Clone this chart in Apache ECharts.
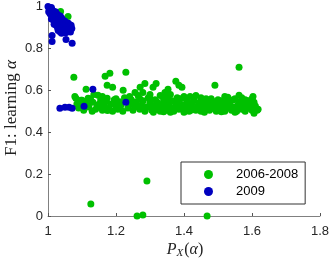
<!DOCTYPE html>
<html><head><meta charset="utf-8">
<script src="https://cdn.jsdelivr.net/npm/echarts@6/dist/echarts.min.js"></script>
<style>html,body{margin:0;padding:0;background:#fff}#c{width:332px;height:261px}</style>
</head><body><div id="c"></div>
<script>
var seriesNames = ['2006-2008', '2009'];
var xTicks = [1, 1.2, 1.4, 1.6, 1.8];
var yTicks = [0, 0.2, 0.4, 0.6, 0.8, 1];

var green = [
[1.037,0.976],[1.059,0.952],
[1.076,0.662],[1.168,0.667],[1.182,0.681],[1.229,0.686],[1.112,0.605],[1.174,0.624],[1.19,0.614],[1.221,0.6],
[1.079,0.571],[1.1,0.552],[1.147,0.576],[1.132,0.543],[1.153,0.538],[1.174,0.562],[1.256,0.59],[1.271,0.614],
[1.279,0.59],[1.285,0.633],[1.318,0.633],[1.309,0.614],[1.376,0.643],[1.394,0.614],[1.385,0.624],[1.344,0.59],
[1.418,0.571],[1.491,0.624],[1.562,0.71],[1.562,0.576],[1.603,0.571],[1.606,0.543],[1.618,0.51],[1.606,0.49],
[1.353,0.605],[1.529,0.567],[1.082,0.562],[1.097,0.552],[1.118,0.562],[1.135,0.58],
[1.126,0.057],[1.262,0.0],[1.279,0.005],[1.291,0.167],[1.468,0.0],
[1.085,0.535],[1.09,0.515],[1.1,0.53],[1.105,0.505],[1.115,0.54],[1.12,0.52],[1.125,0.56],[1.14,0.51],[1.145,0.53],
[1.155,0.555],[1.16,0.505],[1.165,0.525],[1.17,0.545],[1.18,0.515],[1.185,0.535],[1.19,0.5],[1.195,0.555],[1.2,0.525],
[1.205,0.51],[1.21,0.545],[1.215,0.53],[1.22,0.5],[1.225,0.565],[1.235,0.515],[1.24,0.535],[1.245,0.555],[1.25,0.505],
[1.255,0.525],[1.26,0.545],[1.265,0.575],[1.27,0.51],[1.275,0.53],[1.28,0.55],[1.285,0.5],[1.29,0.52],[1.295,0.565],[1.3,0.54],
[1.305,0.505],[1.31,0.525],[1.315,0.555],[1.32,0.51],[1.325,0.535],[1.33,0.5],[1.335,0.52],[1.34,0.545],[1.345,0.565],
[1.35,0.505],[1.355,0.53],[1.36,0.515],[1.365,0.55],[1.37,0.5],[1.375,0.525],[1.38,0.54],[1.385,0.51],[1.39,0.56],[1.395,0.53],[1.4,0.505],
[1.405,0.52],[1.41,0.545],[1.415,0.5],[1.42,0.53],[1.425,0.515],[1.43,0.555],[1.435,0.505],[1.44,0.525],[1.445,0.54],
[1.45,0.5],[1.455,0.52],[1.46,0.51],[1.465,0.535],[1.47,0.55],[1.475,0.505],[1.48,0.525],[1.485,0.515],[1.49,0.545],[1.495,0.5],[1.5,0.53],
[1.505,0.51],[1.51,0.55],[1.515,0.525],[1.52,0.5],[1.525,0.54],[1.53,0.515],[1.535,0.53],[1.54,0.505],[1.545,0.555],
[1.55,0.52],[1.555,0.5],[1.56,0.535],[1.565,0.545],[1.57,0.51],[1.575,0.525],[1.58,0.5],[1.585,0.515],[1.59,0.535],[1.595,0.52],[1.6,0.505],
[1.31,0.495],[1.34,0.498],[1.37,0.512],[1.4,0.495],[1.43,0.51],[1.46,0.495],[1.49,0.512],[1.52,0.51],[1.55,0.495],[1.58,0.508],
[1.33,0.51],[1.36,0.495],[1.42,0.505],[1.47,0.52],[1.51,0.498],
[1.36,0.58],[1.4,0.57],[1.45,0.565],[1.48,0.56],[1.52,0.57],[1.55,0.56],[1.58,0.555],[1.6,0.56],[1.33,0.575],[1.3,0.58],
[1.095,0.542],[1.11,0.528],[1.13,0.5],[1.15,0.52],[1.175,0.503],[1.195,0.538],[1.21,0.518],[1.23,0.548],[1.25,0.535],
[1.265,0.52],[1.28,0.515],[1.3,0.525],[1.32,0.545],[1.34,0.525],[1.355,0.555],[1.375,0.54],[1.39,0.52],[1.41,0.53],
[1.425,0.54],[1.44,0.51],[1.455,0.545],[1.47,0.535],[1.485,0.53],[1.5,0.515],[1.515,0.54],[1.53,0.53],[1.545,0.52],
[1.56,0.52],[1.575,0.54],[1.59,0.515],[1.405,0.56],[1.435,0.575],[1.465,0.56],[1.5,0.555],[1.535,0.55],[1.57,0.565],
[1.24,0.57],[1.27,0.56],[1.2,0.56],[1.16,0.57],[1.3,0.56],[1.34,0.56],[1.38,0.565],[1.61,0.525],[1.615,0.505],[1.59,0.55]
];

var blue = [
[1.0,1.0],[1.003,0.995],[1.006,0.99],[1.01,0.995],[1.004,0.985],[1.008,0.98],[1.012,0.985],[1.015,0.978],[1.002,0.975],
[1.01,0.97],[1.018,0.97],[1.022,0.975],[1.006,0.965],[1.014,0.96],[1.02,0.962],[1.026,0.965],[1.03,0.958],[1.012,0.952],
[1.018,0.948],[1.024,0.952],[1.032,0.948],[1.036,0.955],[1.01,0.94],[1.016,0.935],[1.022,0.94],[1.028,0.935],[1.034,0.94],
[1.04,0.945],[1.044,0.935],[1.02,0.925],[1.026,0.922],[1.032,0.928],[1.038,0.92],[1.046,0.925],[1.05,0.93],[1.018,0.915],
[1.024,0.91],[1.03,0.912],[1.036,0.905],[1.042,0.91],[1.048,0.915],[1.054,0.918],[1.06,0.92],[1.028,0.898],[1.034,0.892],
[1.04,0.898],[1.046,0.9],[1.052,0.905],[1.058,0.9],[1.064,0.905],[1.068,0.91],[1.03,0.885],[1.036,0.878],[1.044,0.884],
[1.05,0.89],[1.056,0.885],[1.062,0.89],[1.07,0.895],[1.066,0.878],[1.04,0.872],[1.052,0.875],
[1.012,0.862],[1.012,0.833],[1.053,0.843],[1.071,0.824],
[1.035,0.514],[1.05,0.519],[1.062,0.519],[1.071,0.514],[1.106,0.524],[1.132,0.605],[1.229,0.543]
];

var colors = ['#00c000', '#0000bf'];
var chart = echarts.init(document.getElementById('c'), null, {renderer: 'canvas'});
var tickFont = {color: '#262626', fontFamily: 'Liberation Sans', fontSize: 13};
chart.setOption({
  animation: false,
  grid: {left: 48, right: 12, top: 6, bottom: 45, containLabel: false},
  xAxis: {
    type: 'value', min: xTicks[0], max: xTicks[xTicks.length - 1], interval: 0.2,
    axisLine: {lineStyle: {color: '#808080', width: 1}},
    axisTick: {inside: true, length: 3, lineStyle: {color: '#555'}},
    splitLine: {show: false},
    axisLabel: Object.assign({margin: 9, formatter: function (v) { return +v.toFixed(1); }}, tickFont)
  },
  yAxis: {
    type: 'value', min: yTicks[0], max: yTicks[yTicks.length - 1], interval: 0.2,
    axisLine: {show: true, lineStyle: {color: '#808080', width: 1}},
    axisTick: {show: true, inside: true, length: 3, lineStyle: {color: '#555'}},
    splitLine: {show: false},
    axisLabel: Object.assign({margin: 5, formatter: function (v) { return +v.toFixed(1); }}, tickFont)
  },
  legend: {
    orient: 'vertical', left: 181, top: 162,
    padding: [6, 7, 6, 23], itemGap: 4,
    itemWidth: 9, itemHeight: 9,
    borderColor: '#333', borderWidth: 1, borderRadius: 0,
    backgroundColor: '#fff',
    textStyle: {color: '#000', fontFamily: 'Liberation Sans', fontSize: 13, padding: [0, 0, 0, 18]},
    data: [{name: seriesNames[0], icon: 'circle'}, {name: seriesNames[1], icon: 'circle'}]
  },
  graphic: [
    {type: 'text', x: 12, y: 108, rotation: Math.PI / 2,
     style: {text: '{r|F1: learning }{i|α}', align: 'center', verticalAlign: 'middle', rich: {
       r: {fontFamily: 'Liberation Serif', fontSize: 17, fill: '#222'},
       i: {fontFamily: 'Liberation Serif', fontSize: 17, fontStyle: 'italic', fill: '#222'}}}},
    {type: 'text', x: 185, y: 250,
     style: {text: '{p|P}{s|X}{r|(}{i|α}{r|)}', align: 'center', verticalAlign: 'middle', rich: {
       p: {fontFamily: 'Liberation Serif', fontSize: 16, fontStyle: 'italic', fill: '#222'},
       s: {fontFamily: 'Liberation Serif', fontSize: 11, fontStyle: 'italic', fill: '#222', padding: [7, 1, 0, 0]},
       r: {fontFamily: 'Liberation Serif', fontSize: 16, fill: '#222'},
       i: {fontFamily: 'Liberation Serif', fontSize: 16, fontStyle: 'italic', fill: '#222'}}}}
  ],
  series: [
    {name: seriesNames[0], type: 'scatter', data: green, symbolSize: 7,
     itemStyle: {color: colors[0], opacity: 1}},
    {name: seriesNames[1], type: 'scatter', data: blue, symbolSize: 7,
     itemStyle: {color: colors[1], opacity: 1}}
  ]
});
</script></body></html>
